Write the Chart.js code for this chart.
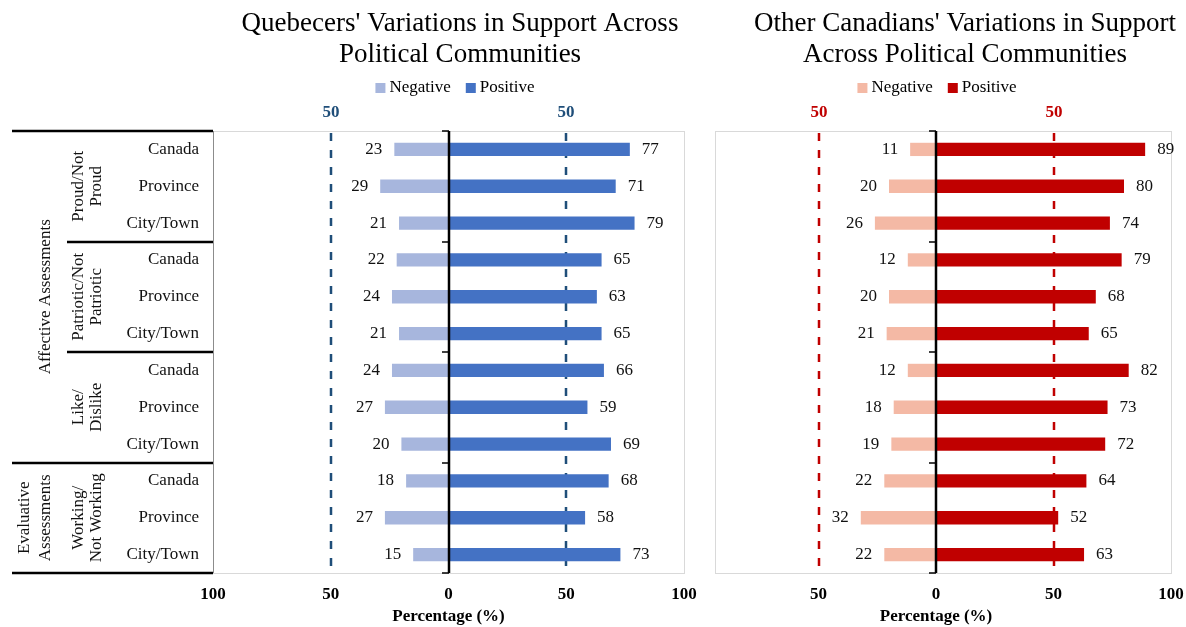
<!DOCTYPE html>
<html>
<head>
<meta charset="utf-8">
<title>Variations in Support Across Political Communities</title>
<script src="https://cdn.jsdelivr.net/npm/chart.js@4.4.1/dist/chart.umd.min.js"></script>
<style>
  html, body { margin: 0; padding: 0; background: #fff; }
  body { width: 1186px; height: 627px; position: relative; overflow: hidden; }
  canvas { position: absolute; top: 0; }
  #cQc  { left: 0; }
  #cOth { left: 692px; }
</style>
</head>
<body>
<canvas id="cQc" width="700" height="627"></canvas>
<canvas id="cOth" width="494" height="627"></canvas>
<script>
// ---------------- data ----------------
const categories = [
  "Canada", "Province", "City/Town",
  "Canada", "Province", "City/Town",
  "Canada", "Province", "City/Town",
  "Canada", "Province", "City/Town"
];
// sub-groups (3 categories each) and sections (in sub-groups)
const groupLabels   = [["Proud/Not", "Proud"], ["Patriotic/Not", "Patriotic"], ["Like/", "Dislike"], ["Working/", "Not Working"]];
const sectionLabels = [["Affective Assessments"], ["Evaluative", "Assessments"]];
const sectionSpans  = [3, 1];

const quebecNegative = [23, 29, 21, 22, 24, 21, 24, 27, 20, 18, 27, 15];
const quebecPositive = [77, 71, 79, 65, 63, 65, 66, 59, 69, 68, 58, 73];
const otherNegative  = [11, 20, 26, 12, 20, 21, 12, 18, 19, 22, 32, 22];
const otherPositive  = [89, 80, 74, 79, 68, 65, 82, 73, 72, 64, 52, 63];

const seriesNames = ["Negative", "Positive"];
const xTicks      = [-100, -50, 0, 50, 100];
const refValues   = [-50, 50];

const SERIF = '"Liberation Serif", "Times New Roman", serif';
const INK = "#111";

// ---------------- helpers ----------------
function line(ctx, x1, y1, x2, y2){
  ctx.beginPath();
  ctx.moveTo(x1, y1);
  ctx.lineTo(x2, y2);
  ctx.stroke();
}
function vText(ctx, text, bx, cy){
  ctx.save();
  ctx.translate(bx, cy);
  ctx.rotate(-Math.PI / 2);
  ctx.textAlign = "center";
  ctx.textBaseline = "alphabetic";
  ctx.fillText(text, 0, 0);
  ctx.restore();
}
// pixel y of boundary before category index i
function boundY(y, a, i){
  if (i <= 0) return a.top;
  if (i >= categories.length) return a.bottom;
  return (y.getPixelForValue(i - 1) + y.getPixelForValue(i)) / 2;
}

// ---------------- decoration plugin ----------------
const decor = {
  id: "decor",
  beforeDatasetsDraw(chart, args, o){
    const { ctx, chartArea: a, scales: { x } } = chart;
    ctx.save();

    // plot frame
    ctx.strokeStyle = "#d9d9d9";
    ctx.lineWidth = 1;
    ctx.strokeRect(a.left + o.frameInset + 0.5, a.top + 0.5, a.right - a.left - o.frameInset, a.bottom - a.top);

    // dashed 50% lines + labels
    ctx.strokeStyle = o.refColor;
    ctx.fillStyle = o.refColor;
    ctx.lineWidth = 2.5;
    ctx.setLineDash([8, 9]);
    ctx.font = `bold 17px ${SERIF}`;
    ctx.textAlign = "center";
    ctx.textBaseline = "middle";
    refValues.forEach(v => {
      const px = Math.round(x.getPixelForValue(v));
      line(ctx, px, a.top + 2, px, a.bottom);
      ctx.fillText(String(Math.abs(v)), px, a.top - 18);
    });
    ctx.setLineDash([]);

    // title
    ctx.fillStyle = "#000";
    ctx.font = `27px ${SERIF}`;
    o.title.forEach((t, i) => ctx.fillText(t, o.titleX, 24 + i * 31));

    // legend
    ctx.font = `17px ${SERIF}`;
    ctx.textAlign = "left";
    const box = 10, gapIn = 4, gapOut = 15;
    const items = chart.data.datasets.map(d => ({ label: d.label, color: d.backgroundColor, w: ctx.measureText(d.label).width }));
    const total = items.reduce((s, it) => s + box + gapIn + it.w, 0) + gapOut * (items.length - 1);
    let lx = o.legendX - total / 2;
    const ly = 88;
    items.forEach(it => {
      ctx.fillStyle = it.color;
      ctx.fillRect(lx, ly - box / 2, box, box);
      lx += box + gapIn;
      ctx.fillStyle = "#000";
      ctx.fillText(it.label, lx, ly);
      lx += it.w + gapOut;
    });

    ctx.restore();
  },
  afterDatasetsDraw(chart, args, o){
    const { ctx, chartArea: a, scales: { x, y } } = chart;
    ctx.save();

    // value labels
    ctx.font = `17px ${SERIF}`;
    ctx.fillStyle = INK;
    ctx.textBaseline = "middle";
    chart.data.datasets.forEach((ds, di) => {
      chart.getDatasetMeta(di).data.forEach((bar, i) => {
        const v = ds.data[i];
        if (v < 0){
          ctx.textAlign = "right";
          ctx.fillText(String(-v), bar.x - 12, bar.y);
        } else {
          ctx.textAlign = "left";
          ctx.fillText(String(v), bar.x + 12, bar.y);
        }
      });
    });

    // zero axis with group ticks
    const zx = Math.round(x.getPixelForValue(0));
    ctx.strokeStyle = "#000";
    ctx.lineWidth = 2.5;
    line(ctx, zx, a.top, zx, a.bottom);
    ctx.lineWidth = 1.5;
    for (let g = 0; g <= groupLabels.length; g++){
      const by = Math.round(boundY(y, a, g * 3));
      line(ctx, zx - 7, by, zx, by);
    }

    // category table (left chart only)
    if (o.table){
      ctx.strokeStyle = "#8c8c8c";
      ctx.lineWidth = 1;
      line(ctx, a.left + 0.5, a.top, a.left + 0.5, a.bottom);

      const sectionStarts = [0];
      sectionSpans.forEach(s => sectionStarts.push(sectionStarts[sectionStarts.length - 1] + s));
      ctx.strokeStyle = "#000";
      ctx.lineWidth = 2.5;
      for (let g = 0; g <= groupLabels.length; g++){
        const by = Math.round(boundY(y, a, g * 3));
        const full = sectionStarts.includes(g);
        line(ctx, full ? 12 : 67, by, a.left, by);
      }

      ctx.fillStyle = INK;
      ctx.font = `17px ${SERIF}`;
      groupLabels.forEach((lines, g) => {
        const cy = (boundY(y, a, g * 3) + boundY(y, a, g * 3 + 3)) / 2;
        lines.forEach((t, k) => vText(ctx, t, 83 + k * 18, cy));
      });
      sectionLabels.forEach((lines, s) => {
        const g0 = sectionStarts[s], g1 = sectionStarts[s + 1];
        const cy = (boundY(y, a, g0 * 3) + boundY(y, a, g1 * 3)) / 2;
        lines.forEach((t, k) => vText(ctx, t, 50 - (lines.length - 1 - k) * 21, cy));
      });
    }

    ctx.restore();
  }
};

// ---------------- chart builder ----------------
function makeChart(id, neg, pos, opt){
  return new Chart(document.getElementById(id), {
    type: "bar",
    data: {
      labels: categories,
      datasets: [
        { label: seriesNames[0], data: neg.map(v => -v), backgroundColor: opt.negColor },
        { label: seriesNames[1], data: pos, backgroundColor: opt.posColor }
      ]
    },
    options: {
      indexAxis: "y",
      responsive: false,
      animation: false,
      events: [],
      datasets: { bar: { barPercentage: 0.36, categoryPercentage: 1 } },
      layout: { padding: { top: 131, left: opt.padLeft, right: opt.padRight, bottom: 0 } },
      scales: {
        x: {
          stacked: true,
          min: xTicks[0],
          max: xTicks[xTicks.length - 1],
          afterBuildTicks: s => { s.ticks = xTicks.map(v => ({ value: v })); },
          afterFit: s => { s.height = 54; s.paddingLeft = 0; s.paddingRight = 0; },
          grid: { display: false, drawTicks: false },
          border: { display: false },
          ticks: {
            padding: 11,
            color: "#000",
            font: { family: SERIF, size: 17, weight: "bold" },
            callback: v => (opt.hideMin && v === xTicks[0]) ? "" : String(Math.abs(v))
          },
          title: {
            display: true,
            text: "Percentage (%)",
            color: "#000",
            padding: { top: 0, bottom: 0 },
            font: { family: SERIF, size: 17, weight: "bold" }
          }
        },
        y: {
          stacked: true,
          display: opt.showY,
          afterFit: s => { s.width = opt.yWidth; },
          grid: { display: false, drawTicks: false },
          border: { display: false },
          ticks: {
            padding: 14,
            color: INK,
            font: { family: SERIF, size: 17 }
          }
        }
      },
      plugins: {
        legend: { display: false },
        tooltip: { enabled: false },
        decor: {
          title: opt.title,
          titleX: opt.titleX,
          legendX: opt.legendX,
          refColor: opt.refColor,
          frameInset: opt.frameInset,
          table: opt.table
        }
      }
    },
    plugins: [decor]
  });
}

window.addEventListener("DOMContentLoaded", () => {
  makeChart("cQc", quebecNegative, quebecPositive, {
    title: ["Quebecers' Variations in Support Across", "Political Communities"],
    titleX: 460,
    legendX: 455,
    negColor: "#A7B6DD",
    posColor: "#4472C4",
    refColor: "#1F4E79",
    padLeft: 0,
    padRight: 16,
    showY: true,
    yWidth: 213,
    hideMin: false,
    frameInset: 0,
    table: true
  });
  makeChart("cOth", otherNegative, otherPositive, {
    title: ["Other Canadians' Variations in Support", "Across Political Communities"],
    titleX: 965 - 692,
    legendX: 937 - 692,
    negColor: "#F4B9A5",
    posColor: "#C00000",
    refColor: "#C00000",
    padLeft: 9,
    padRight: 15,
    showY: false,
    yWidth: 0,
    hideMin: true,
    frameInset: 14,
    table: false
  });
});
</script>
</body>
</html>
